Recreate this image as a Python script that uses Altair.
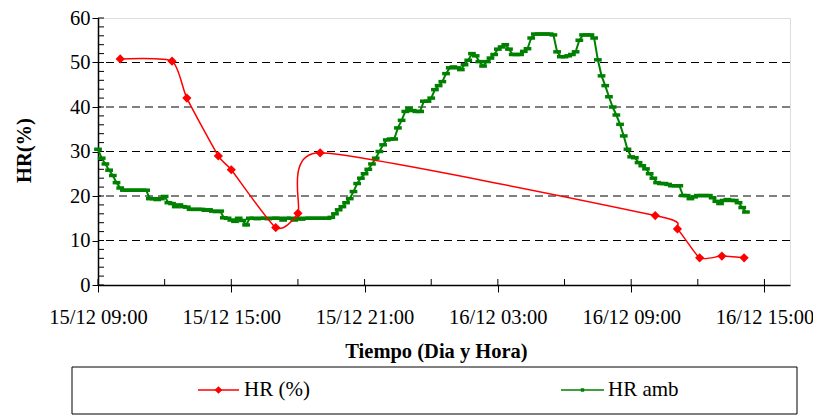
import altair as alt
import pandas as pd

# ---------------- data ----------------
series_names = ["HR (%)", "HR amb"]

red_times = ["2023-12-15 10:00", "2023-12-15 12:20", "2023-12-15 13:00", "2023-12-15 14:25",
             "2023-12-15 15:00", "2023-12-15 17:00", "2023-12-15 18:00", "2023-12-15 19:00",
             "2023-12-16 10:05", "2023-12-16 11:05", "2023-12-16 12:05", "2023-12-16 13:05",
             "2023-12-16 14:05"]
red_values = [50.8, 50.3, 42.0, 29.0, 25.9, 12.9, 16.1, 29.7, 15.6, 12.6, 6.1, 6.5, 6.1]

green_start = "2023-12-15 09:00"
green_step = "10min"
green_values = [
    30.5, 28.5, 27.2, 25.8, 24.6, 23.0,
    21.8, 21.3, 21.3, 21.3, 21.3, 21.3,
    21.3, 21.3, 19.4, 19.4, 19.2, 19.4,
    19.9, 18.5, 18.3, 17.6, 18.0, 17.6,
    17.5, 17.0, 17.0, 17.0, 17.0, 16.8,
    16.9, 16.6, 16.5, 16.6, 15.1, 15.0,
    14.6, 14.3, 15.0, 14.5, 13.5, 15.0,
    15.0, 14.9, 15.0, 15.0, 14.9, 15.0,
    15.0, 15.0, 14.6, 15.0, 15.0, 14.6,
    15.0, 14.8, 15.0, 15.0, 15.0, 15.0,
    15.0, 15.0, 15.0, 15.2, 16.0, 16.9,
    17.6, 18.5, 19.4, 21.0, 22.8, 24.0,
    25.0, 26.0, 27.2, 28.5, 30.0, 31.5,
    32.6, 32.8, 32.8, 35.3, 37.0, 39.0,
    39.7, 39.2, 39.0, 39.0, 41.3, 41.3,
    42.0, 43.9, 44.8, 45.7, 47.5, 48.8,
    49.0, 48.8, 48.4, 49.5, 50.5, 52.0,
    51.5, 50.2, 49.2, 50.2, 51.0, 51.8,
    53.0, 53.5, 54.0, 53.0, 51.8, 51.8,
    51.8, 52.5, 53.1, 55.5, 56.4, 56.4,
    56.4, 56.4, 56.4, 56.2, 52.4, 51.3,
    51.3, 51.5, 51.8, 52.4, 55.0, 56.2,
    56.2, 56.2, 55.5, 50.6, 47.0, 44.8,
    42.3, 40.0, 38.2, 36.1, 33.5, 30.5,
    28.8, 28.6, 27.5, 26.8, 26.1, 25.0,
    24.0, 23.0, 22.8, 22.8, 22.6, 22.3,
    22.3, 22.3, 20.1, 20.1, 19.4, 19.8,
    20.1, 20.1, 20.1, 20.1, 19.6, 18.8,
    18.3, 19.0, 19.2, 19.0, 19.0, 18.5,
    17.4, 16.4,
]

x_domain = ["2023-12-15 09:00", "2023-12-16 16:09"]
x_tick_times = ["2023-12-15 09:00", "2023-12-15 15:00", "2023-12-15 21:00",
                "2023-12-16 03:00", "2023-12-16 09:00", "2023-12-16 15:00"]
x_minor_times = ["2023-12-15 09:00", "2023-12-15 12:00", "2023-12-15 15:00", "2023-12-15 18:00",
                 "2023-12-15 21:00", "2023-12-16 00:00", "2023-12-16 03:00", "2023-12-16 06:00",
                 "2023-12-16 09:00", "2023-12-16 12:00", "2023-12-16 15:00"]
y_major = [0, 10, 20, 30, 40, 50, 60]
y_grid = [10, 20, 30, 40, 50]
y_minor = list(range(0, 61, 2))

# ---------------- helpers ----------------
def dt(s):
    t = pd.Timestamp(s)
    return alt.DateTime(year=t.year, month=t.month, date=t.day, hours=t.hour, minutes=t.minute)

def iso(s):
    return pd.Timestamp(s).strftime("%Y-%m-%dT%H:%M:%S")

TOP = 10
W, H = 692, 267
FONT = "Liberation Serif, Times New Roman, serif"
FS = 20.5
RED = "#FF0000"
GREEN = "#008000"

red_df = pd.DataFrame({"time": [iso(t) for t in red_times], "value": red_values,
                       "series": series_names[0]})
green_df = pd.DataFrame({
    "time": [t.strftime("%Y-%m-%dT%H:%M:%S")
             for t in pd.date_range(green_start, periods=len(green_values), freq=green_step)],
    "value": green_values, "series": series_names[1]})
minor_x_df = pd.DataFrame({"time": [iso(t) for t in x_minor_times]})
grid_df = pd.DataFrame({"value": y_grid})
minor_y_df = pd.DataFrame({"value": y_minor})
legend_df = pd.DataFrame({"series": series_names})

x_scale = alt.Scale(domain=[dt(d) for d in x_domain])
y_scale = alt.Scale(domain=[0, 60], nice=False, zero=True)

x_axis = alt.Axis(
    values=[dt(t) for t in x_tick_times],
    labelExpr="timeFormat(datum.value, '%d/%m %H:%M')",
    title="Tiempo (Dia y Hora)",
    grid=False, tickSize=7, tickColor="black", tickWidth=1,
    domainColor="black", domainWidth=1.5,
    labelFont=FONT, labelFontSize=FS, labelColor="black", labelPadding=15,
    labelFlush=False, labelOverlap=False,
    titleFont=FONT, titleFontSize=FS, titleFontWeight="bold", titleColor="black",
    titleX=338, titleY=72, titleAlign="center", titleBaseline="alphabetic",
)
y_axis = alt.Axis(
    values=y_major, title="HR(%)",
    grid=False, tickSize=6, tickColor="black", tickWidth=1,
    domainColor="black", domainWidth=1.5,
    labelFont=FONT, labelFontSize=FS, labelColor="black", labelPadding=2,
    titleFont=FONT, titleFontSize=FS, titleFontWeight="bold", titleColor="black",
    titleX=-74, titleY=150 - 16 - (TOP - 8), titleAngle=270, titleAlign="center",
    titleBaseline="middle",
)

X = alt.X("time:T", scale=x_scale, axis=x_axis)
Y = alt.Y("value:Q", scale=y_scale, axis=y_axis)

grid = alt.Chart(grid_df).mark_rule(color="black", strokeWidth=1, strokeDash=[8, 5]).encode(y=Y)

minor_y = alt.Chart(minor_y_df).mark_rule(color="black", strokeWidth=1).encode(
    y=Y, x=alt.value(0), x2=alt.value(6))

minor_x = alt.Chart(minor_x_df).mark_rule(color="black", strokeWidth=1).encode(
    x=X, y=alt.value(H - 6), y2=alt.value(H))

green_line = alt.Chart(green_df).mark_line(color=GREEN, strokeWidth=2).encode(x=X, y=Y)

dash_shape = "M-1,-0.45L1,-0.45L1,0.45L-1,0.45Z"
green_pts = alt.Chart(green_df).mark_point(
    shape=dash_shape, filled=True, color=GREEN, size=60, opacity=1, strokeWidth=0).encode(x=X, y=Y)

red_line = alt.Chart(red_df).mark_line(
    color=RED, strokeWidth=1.5, interpolate="cardinal", tension=0.4).encode(x=X, y=Y)

red_pts = alt.Chart(red_df).mark_point(
    shape="diamond", filled=True, color=RED, size=85, opacity=1).encode(x=X, y=Y)

# ---------------- legend (drawn below the plot) ----------------
OY = TOP - 8
LY = 390 - 16 - OY
first = alt.datum.series == series_names[0]
second = alt.datum.series == series_names[1]

legend_box = alt.Chart(legend_df).transform_filter(first).mark_rect(
    fill="white", stroke="black", strokeWidth=1).encode(
    x=alt.value(-26), x2=alt.value(699), y=alt.value(351 - OY), y2=alt.value(398 - OY))

leg_red_line = alt.Chart(legend_df).transform_filter(first).mark_rule(
    color=RED, strokeWidth=1.5).encode(x=alt.value(100), x2=alt.value(141), y=alt.value(LY))
leg_red_pt = alt.Chart(legend_df).transform_filter(first).mark_point(
    shape="diamond", filled=True, color=RED, size=60, opacity=1).encode(
    x=alt.value(120.5), y=alt.value(LY))
leg_red_txt = alt.Chart(legend_df).transform_filter(first).mark_text(
    align="left", baseline="middle", font=FONT, fontSize=21, color="black").encode(
    text="series:N", x=alt.value(146), y=alt.value(LY))

leg_green_line = alt.Chart(legend_df).transform_filter(second).mark_rule(
    color=GREEN, strokeWidth=1.5).encode(x=alt.value(463), x2=alt.value(506), y=alt.value(LY))
leg_green_pt = alt.Chart(legend_df).transform_filter(second).mark_point(
    shape="square", filled=True, color=GREEN, size=12, opacity=1).encode(
    x=alt.value(484.5), y=alt.value(LY))
leg_green_txt = alt.Chart(legend_df).transform_filter(second).mark_text(
    align="left", baseline="middle", font=FONT, fontSize=21, color="black").encode(
    text="series:N", x=alt.value(510), y=alt.value(LY))

chart = alt.layer(
    grid, minor_y, minor_x, green_line, green_pts, red_line, red_pts,
    legend_box, leg_red_line, leg_red_pt, leg_red_txt,
    leg_green_line, leg_green_pt, leg_green_txt,
).properties(
    width=W, height=H,
    autosize=alt.AutoSizeParams(type="none"),
    padding={"left": 90, "top": TOP, "right": 23, "bottom": 131},
).configure_view(
    stroke="#8c8c8c", strokeWidth=2
).configure(background="white")

chart.save("out.html", embed_options={"renderer": "svg", "actions": False})
